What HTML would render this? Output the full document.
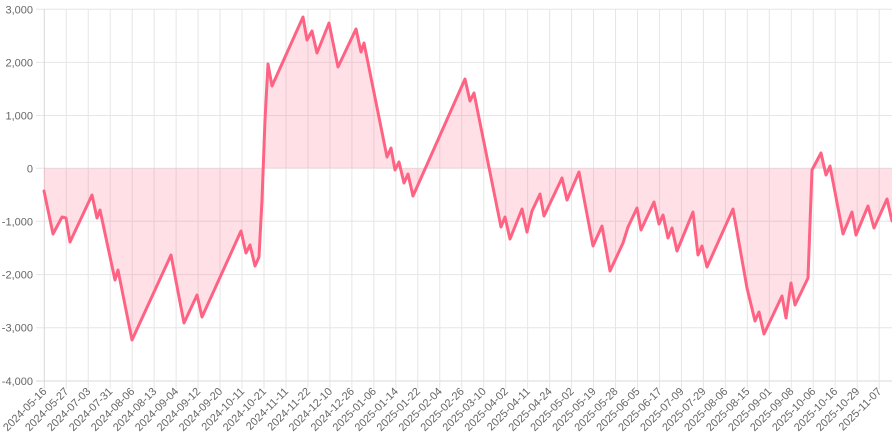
<!DOCTYPE html>
<html><head><meta charset="utf-8"><style>
html,body{margin:0;padding:0;background:#fff;}
svg{display:block;font-family:"Liberation Sans",sans-serif;}
</style></head><body>
<svg id="c" width="892" height="446" viewBox="0 0 892 446" xmlns="http://www.w3.org/2000/svg"></svg>
<script>
const s=document.getElementById('c');let h='';
const ys=[9.3,62.4,115.5,168.3,221.3,274.6,327.7,381];
const yl=['3,000','2,000','1,000','0','-1,000','-2,000','-3,000','-4,000'];
ys.forEach((y,i)=>{h+=`<line x1="36" x2="892" y1="${y}" y2="${y}" stroke="${i==7?'#d8d8d8':'#e6e6e6'}" stroke-width="1"/>`;
h+=`<text x="33" y="${y+4}" font-size="11" fill="#666" text-anchor="end">${yl[i]}</text>`;});
const xl=['2024-05-16','2024-05-27','2024-07-03','2024-07-31','2024-08-06','2024-08-13','2024-09-04','2024-09-12','2024-09-20','2024-10-11','2024-10-21','2024-11-11','2024-11-22','2024-12-10','2024-12-26','2025-01-06','2025-01-14','2025-01-22','2025-02-04','2025-02-26','2025-03-10','2025-04-02','2025-04-11','2025-04-24','2025-05-02','2025-05-19','2025-05-28','2025-06-05','2025-06-17','2025-07-09','2025-07-29','2025-08-06','2025-08-15','2025-09-01','2025-09-08','2025-10-06','2025-10-16','2025-10-29','2025-11-07'];
xl.forEach((t,i)=>{const x=44.3+i*21.97;
h+=`<line x1="${x}" x2="${x}" y1="9" y2="389" stroke="${i==0?'#d8d8d8':'#e6e6e6'}" stroke-width="1"/>`;
h+=`<text transform="translate(${x+3},392) rotate(-45)" font-size="11" fill="#666" text-anchor="end">${t}</text>`;});
const p=[[44,191],[53,234],[62,217],[66,218],[70,242],[92,195],[97,218],[100,210],[115,280],[118,270],[132,340],[171,255],[184,323],[197,295],[202,317],[241,231],[246,253],[250,245],[255,266],[259,257],[262,200],[265,120],[268,64],[272,86],[303,17],[307,40],[312,31],[317,53],[329,23],[338,67],[356,29],[361,52],[364,43],[387,157],[391,148],[395,170],[399,162],[404,183],[408,174],[413,196],[465,79],[470,101],[474,93],[501,227],[505,217],[510,239],[522,209],[527,232],[532,211],[540,194],[544,216],[562,178],[567,200],[579,172],[593,246],[602,226],[610,271],[623,243],[628,227],[637,208],[641,230],[654,202],[659,224],[663,215],[668,238],[672,228],[677,251],[693,212],[698,255],[702,246],[707,267],[733,209],[747,288],[755,321],[759,312],[764,334],[782,296],[786,318],[791,283],[795,305],[808,278],[812,170],[821,153],[826,175],[830,166],[843,234],[852,212],[856,235],[868,206],[874,228],[887,199],[892,221]];
const d=p.map((q,i)=>(i?'L':'M')+q[0]+','+q[1]).join(' ');
h+=`<path d="${d} L892,168.3 L44,168.3 Z" fill="rgba(255,99,132,0.2)"/>`;
h+=`<path d="${d}" fill="none" stroke="#ff6384" stroke-width="3" stroke-linejoin="round" stroke-linecap="round"/>`;
s.innerHTML=h;
</script>
</body></html>
